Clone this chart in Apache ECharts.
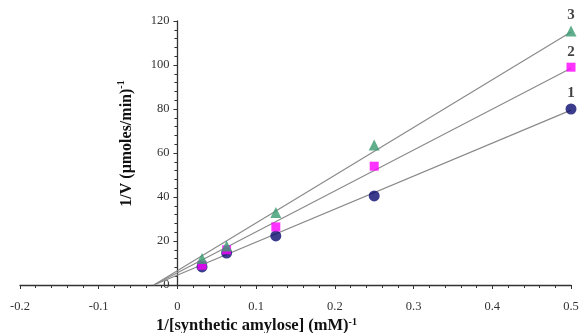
<!DOCTYPE html>
<html><head><meta charset="utf-8">
<script src="https://cdn.jsdelivr.net/npm/echarts@6/dist/echarts.min.js"></script>
<style>html,body{margin:0;padding:0;background:#fff}#c{width:579px;height:333px}</style>
</head><body><div id="c"></div>
<script>
const xValues = [0.03125, 0.0625, 0.125, 0.25, 0.5];
const series1 = [8.2, 14.5, 22.3, 40.5, 80];
const series2 = [9, 16, 26.4, 54, 99];
const series3 = [12, 17.7, 33, 63.6, 115.5];
const fitX = [-0.03, 0.5];
const fit1 = [0, 79.5];
const fit2 = [0, 98.5];
const fit3 = [0, 115];
const seriesNames = ['1', '2', '3'];

const font = 'Liberation Serif';
const gridLeft = 20, gridRight = 8, W = 579;
const xMin = -0.2, xMax = 0.5;
// pixel distance of x=0 from grid's left edge, used to place the y axis at x=0
const yAxisShift = (0 - xMin) / (xMax - xMin) * (W - gridLeft - gridRight);

function pts(xs, ys) { return xs.map((x, i) => [x, ys[i]]); }
function scatterData(ys, name) {
  return xValues.map((x, i) => {
    const d = { value: [x, ys[i]] };
    if (i === xValues.length - 1) {
      d.label = { show: true, formatter: name, position: 'top', distance: 3,
        fontFamily: font, fontWeight: 'bold', fontSize: 15, color: '#111' };
    }
    return d;
  });
}
const lineStyle = { color: '#8a8a8a', width: 1.2 };
function fitSeries(ys) {
  return { type: 'line', data: pts(fitX, ys), symbol: 'none', lineStyle: lineStyle, z: 1, silent: true };
}
const chart = echarts.init(document.getElementById('c'));
chart.setOption({
  animation: false,
  grid: { left: gridLeft, right: gridRight, top: 21, bottom: 48, outerBoundsMode: 'none', containLabel: false },
  xAxis: {
    type: 'value', min: xMin, max: xMax, interval: 0.1,
    axisLine: { lineStyle: { color: '#333', width: 1.3 } },
    axisTick: { show: true, length: 4, lineStyle: { color: '#333' } },
    minorTick: { show: true, splitNumber: 5, length: 3, lineStyle: { color: '#333' } },
    splitLine: { show: false },
    axisLabel: { fontFamily: font, fontSize: 12.5, color: '#333', margin: 15,
      formatter: v => (Math.round(v * 10) / 10).toString() },
    name: '{b|1/[synthetic amylose] (mM)}{s|-1}',
    nameLocation: 'middle', nameGap: 32, nameMoveOverlap: false,
    nameTextStyle: { padding: [0, 78, 0, 0], lineHeight: 18, rich: {
      b: { fontFamily: font, fontWeight: 'bold', fontSize: 16.5, color: '#111', lineHeight: 18 },
      s: { fontFamily: font, fontWeight: 'bold', fontSize: 10, color: '#111', verticalAlign: 'top', lineHeight: 18, padding: [0, 0, 6, 0] }
    } }
  },
  yAxis: {
    type: 'value', min: 0, max: 120, interval: 20,
    offset: -yAxisShift,
    axisLine: { show: true, onZero: false, lineStyle: { color: '#333', width: 1.3 } },
    axisTick: { show: true, length: 4, lineStyle: { color: '#333' } },
    minorTick: { show: true, splitNumber: 5, length: 3, lineStyle: { color: '#333' } },
    splitLine: { show: false },
    axisLabel: { fontFamily: font, fontSize: 12.5, color: '#333', margin: 8 },
    name: '{b|1/V (μmoles/min)}{s|-1}',
    nameLocation: 'middle', nameGap: 41, nameRotate: 90, nameMoveOverlap: false,
    nameTextStyle: { padding: [0, 0, 0, 19], rich: {
      b: { fontFamily: font, fontWeight: 'bold', fontSize: 16, color: '#111' },
      s: { fontFamily: font, fontWeight: 'bold', fontSize: 10, color: '#111', verticalAlign: 'top', padding: [0, 0, 10, 0] }
    } }
  },
  series: [
    fitSeries(fit1), fitSeries(fit2), fitSeries(fit3),
    { type: 'scatter', name: seriesNames[0], data: scatterData(series1, seriesNames[0]), symbol: 'circle', symbolSize: 11,
      itemStyle: { color: '#0b0b70' }, z: 3 },
    { type: 'scatter', name: seriesNames[1], data: scatterData(series2, seriesNames[1]), symbol: 'rect', symbolSize: 9,
      itemStyle: { color: '#ff00ff' }, z: 4 },
    { type: 'scatter', name: seriesNames[2], data: scatterData(series3, seriesNames[2]), symbol: 'triangle', symbolSize: 11,
      itemStyle: { color: '#3a9a70' }, z: 5 }
  ]
});
</script></body></html>
